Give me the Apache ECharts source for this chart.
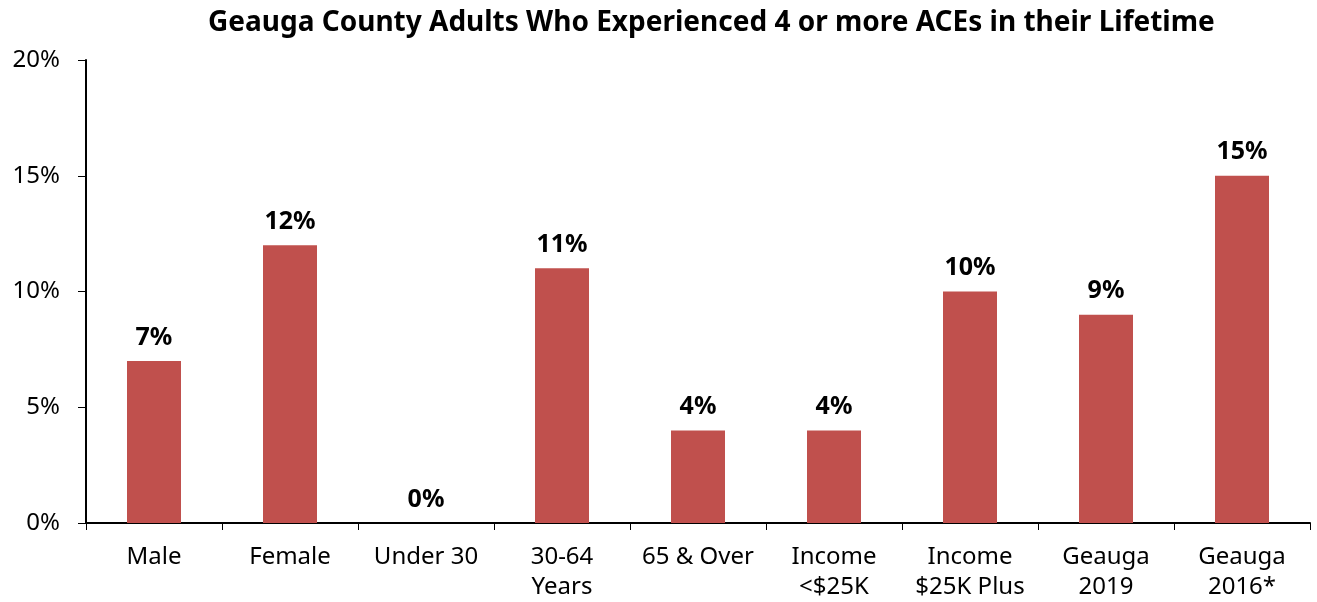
<!DOCTYPE html>
<html>
<head>
<meta charset="utf-8">
<script src="https://cdn.jsdelivr.net/npm/echarts@6/dist/echarts.min.js"></script>
<style>
  html, body { margin: 0; padding: 0; background: #fff; }
  #chart { width: 1317px; height: 602px; }
</style>
</head>
<body>
<div id="chart"></div>
<script>
// Share of adults reporting 4+ adverse childhood experiences, by group
const categories = ['Male', 'Female', 'Under 30', '30-64\nYears', '65 & Over', 'Income\n<$25K', 'Income\n$25K Plus', 'Geauga\n2019', 'Geauga\n2016*'];
const values = [7, 12, 0, 11, 4, 4, 10, 9, 15];
const yTicks = [0, 5, 10, 15, 20];

const FONT = '"Noto Sans", "Open Sans", sans-serif';

const chart = echarts.init(document.getElementById('chart'));
chart.setOption({
  animation: false,
  title: {
    text: 'Geauga County Adults Who Experienced 4 or more ACEs in their Lifetime',
    left: 203,
    top: 4,
    textStyle: { fontFamily: FONT, fontSize: 28, fontWeight: 'bold', color: '#000' }
  },
  grid: { left: 86, right: 7, top: 60, bottom: 79, containLabel: false },
  xAxis: {
    type: 'category',
    data: categories,
    axisLine: { lineStyle: { color: '#000', width: 2 } },
    axisTick: { show: true, length: 7, lineStyle: { color: '#000', width: 1 } },
    axisLabel: {
      interval: 0,
      color: '#000', fontFamily: FONT, fontSize: 24, margin: 19, lineHeight: 30
    }
  },
  yAxis: {
    type: 'value',
    min: yTicks[0],
    max: yTicks[yTicks.length - 1],
    interval: 5,
    axisLine: { show: true, lineStyle: { color: '#000', width: 2 } },
    axisTick: { show: true, length: 8, lineStyle: { color: '#000', width: 1 } },
    splitLine: { show: false },
    axisLabel: {
      color: '#000', fontFamily: FONT, fontSize: 24, margin: 26,
      formatter: v => v + '%'
    }
  },
  series: [{
    type: 'bar',
    data: values,
    barWidth: 54,
    itemStyle: { color: '#C0504D' },
    label: {
      show: true,
      position: 'top',
      distance: 11,
      formatter: p => p.value + '%',
      color: '#000', fontFamily: FONT, fontSize: 25, fontWeight: 'bold'
    }
  }]
});
</script>
</body>
</html>
